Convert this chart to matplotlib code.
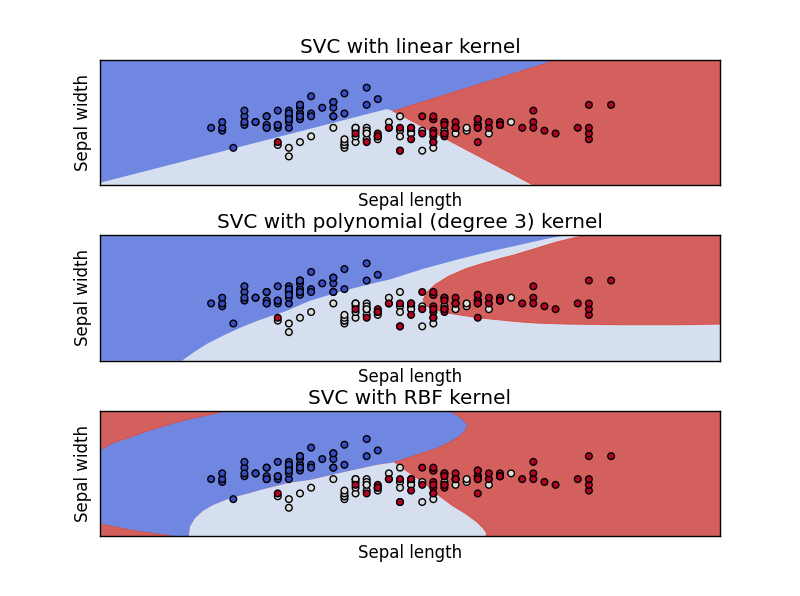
import numpy as np
import matplotlib
matplotlib.use("Agg")
import matplotlib.pyplot as plt

plt.rcParams['text.hinting'] = 'auto'
plt.rcParams['text.hinting_factor'] = 8

sepal_length = [5.1,4.9,4.7,4.6,5.0,5.4,4.6,5.0,4.4,4.9,5.4,4.8,4.8,4.3,5.8,5.7,5.4,5.1,5.7,5.1,5.4,5.1,4.6,5.1,4.8,5.0,5.0,5.2,5.2,4.7,4.8,5.4,5.2,5.5,4.9,5.0,5.5,4.9,4.4,5.1,5.0,4.5,4.4,5.0,5.1,4.8,5.1,4.6,5.3,5.0,
                7.0,6.4,6.9,5.5,6.5,5.7,6.3,4.9,6.6,5.2,5.0,5.9,6.0,6.1,5.6,6.7,5.6,5.8,6.2,5.6,5.9,6.1,6.3,6.1,6.4,6.6,6.8,6.7,6.0,5.7,5.5,5.5,5.8,6.0,5.4,6.0,6.7,6.3,5.6,5.5,5.5,6.1,5.8,5.0,5.6,5.7,5.7,6.2,5.1,5.7,
                6.3,5.8,7.1,6.3,6.5,7.6,4.9,7.3,6.7,7.2,6.5,6.4,6.8,5.7,5.8,6.4,6.5,7.7,7.7,6.0,6.9,5.6,7.7,6.3,6.7,7.2,6.2,6.1,6.4,7.2,7.4,7.9,6.4,6.3,6.1,7.7,6.3,6.4,6.0,6.9,6.7,6.9,5.8,6.8,6.7,6.7,6.3,6.5,6.2,5.9]
sepal_width = [3.5,3.0,3.2,3.1,3.6,3.9,3.4,3.4,2.9,3.1,3.7,3.4,3.0,3.0,4.0,4.4,3.9,3.5,3.8,3.8,3.4,3.7,3.6,3.3,3.4,3.0,3.4,3.5,3.4,3.2,3.1,3.4,4.1,4.2,3.1,3.2,3.5,3.6,3.0,3.4,3.5,2.3,3.2,3.5,3.8,3.0,3.8,3.2,3.7,3.3,
               3.2,3.2,3.1,2.3,2.8,2.8,3.3,2.4,2.9,2.7,2.0,3.0,2.2,2.9,2.9,3.1,3.0,2.7,2.2,2.5,3.2,2.8,2.5,2.8,2.9,3.0,2.8,3.0,2.9,2.6,2.4,2.4,2.7,2.7,3.0,3.4,3.1,2.3,3.0,2.5,2.6,3.0,2.6,2.3,2.7,3.0,2.9,2.9,2.5,2.8,
               3.3,2.7,3.0,2.9,3.0,3.0,2.5,2.9,2.5,3.6,3.2,2.7,3.0,2.5,2.8,3.2,3.0,3.8,2.6,2.2,3.2,2.8,2.8,2.7,3.3,3.2,2.8,3.0,2.8,3.0,2.8,3.8,2.8,2.8,2.6,3.0,3.4,3.1,3.0,3.1,3.1,3.1,2.7,3.2,3.3,3.0,2.5,3.0,3.4,3.0]
species = [0]*50 + [1]*50 + [2]*50

titles = ['SVC with linear kernel', 'SVC with polynomial (degree 3) kernel', 'SVC with RBF kernel']
xlabel_text = 'Sepal length'
ylabel_text = 'Sepal width'

x_range = (3.3, 8.88)
y_range = (1.0, 5.38)

BLUE = '#6f87e0'
LIGHT = '#d6dff0'
RED = '#d4605e'
EDGE = '#d94f47'

# Decision-boundary outlines, against a frame of 3.3-8.9 by 1.0-5.4
linear_blue_light = [(3.3,1.08),(5.889,3.665),(5.949,3.594)]
linear_blue_red = [(5.949,3.594),(7.44,5.4)]
linear_light_red = [(5.949,3.594),(7.214,1.0)]

poly_blue_light = [(4.04,1.0),(4.158,1.326),(4.278,1.62),(4.429,1.911),(4.58,2.181),(4.73,2.413),(4.881,2.613),
                   (4.971,2.728),(5.197,3.104),(5.497,3.454),(5.799,3.745),(5.919,3.85),(6.22,4.225),(6.522,4.541),
                   (6.822,4.832),(7.123,5.091),(7.364,5.302),(7.515,5.4)]
poly_red_edge = [(7.68,5.4),(7.425,5.162),(7.048,4.716),(6.897,4.566),(6.748,4.401),(6.597,4.215),(6.446,3.956),
                 (6.326,3.665),(6.251,3.395),(6.22,3.139),(6.235,2.963),(6.296,2.813),(6.446,2.672),(6.597,2.578),
                 (6.748,2.497),(7.048,2.378),(7.244,2.322),(7.515,2.287),(8.026,2.262),(8.509,2.262),(8.9,2.287)]

rbf_top_left = [(3.3,4.033),(3.406,4.268),(3.556,4.464),(3.706,4.674),(3.857,4.85),(4.007,5.025),(4.158,5.165),
                (4.309,5.284),(4.384,5.354),(4.429,5.4)]
rbf_blob = [(6.467,5.4),(6.552,5.179),(6.597,5.039),(6.621,4.92),(6.606,4.744),(6.552,4.513),(6.461,4.303),
            (6.341,4.078),(6.19,3.892),(5.964,3.601)]
rbf_arc = [(5.964,3.601),(5.799,3.507),(5.497,3.251),(5.197,2.981),(5.016,2.886),(4.775,2.655),(4.625,2.49),
           (4.474,2.339),(4.323,2.104),(4.233,1.904),(4.158,1.638),(4.113,1.344),(4.104,1.053),(4.104,1.0)]
rbf_bottom_left = [(3.962,1.0),(3.812,1.088),(3.601,1.203),(3.3,1.438)]
rbf_lower_right = [(5.964,3.601),(6.10,3.216),(6.251,2.806),(6.355,2.455),(6.476,2.104),(6.597,1.813),(6.702,1.519),
                   (6.762,1.287),(6.793,1.112),(6.786,1.0)]

LOW_X, HIGH_X, LOW_Y, HIGH_Y = 3.3, 8.9, 1.0, 5.4
linear_blue = [(LOW_X,HIGH_Y)] + linear_blue_red[-1:] + linear_blue_red[:1] + linear_blue_light[::-1][1:]
linear_blue = [(LOW_X,HIGH_Y),(7.44,HIGH_Y),(5.949,3.594),(5.889,3.665),(LOW_X,1.08)]
linear_red = [(7.44,HIGH_Y),(HIGH_X,HIGH_Y),(HIGH_X,LOW_Y),(7.214,LOW_Y),(5.949,3.594)]
poly_blue = [(LOW_X,HIGH_Y)] + poly_blue_light[::-1] + [(LOW_X,LOW_Y)]
poly_red = poly_red_edge + [(HIGH_X,HIGH_Y)]
rbf_blue = rbf_top_left + rbf_blob + rbf_arc[1:] + rbf_bottom_left
rbf_light = rbf_arc + rbf_lower_right[::-1]


def to_grid(outline):
    """The plotted grid stops one step short of the frame the outlines were read against."""
    return [(x_range[0] + (x - LOW_X) * (x_range[1] - x_range[0]) / (HIGH_X - LOW_X),
             y_range[0] + (y - LOW_Y) * (y_range[1] - y_range[0]) / (HIGH_Y - LOW_Y))
            for x, y in outline]


regions = [
    (LIGHT, [(BLUE, linear_blue), (RED, linear_red)], [linear_blue_red, linear_light_red]),
    (LIGHT, [(BLUE, poly_blue), (RED, poly_red)], [poly_red_edge]),
    (RED, [(BLUE, rbf_blue), (LIGHT, rbf_light)], [rbf_top_left, rbf_blob, rbf_bottom_left, rbf_lower_right]),
]

fig, axes = plt.subplots(3, 1, figsize=(8, 5.96), dpi=100, facecolor='white')
fig.subplots_adjust(left=0.125, right=0.9, top=0.9, bottom=0.1, hspace=0.4)

for ax, title, (back, shapes, edges) in zip(axes, titles, regions):
    ax.set_facecolor(back)
    for colour, outline in shapes:
        xs, ys = zip(*to_grid(outline))
        ax.fill(xs, ys, color=colour, linewidth=0, zorder=1)
    for edge in edges:
        xs, ys = zip(*to_grid(edge))
        ax.plot(xs, ys, color=EDGE, linewidth=0.7, zorder=2)
    ax.scatter(sepal_length, sepal_width, c=species, cmap='coolwarm', s=23,
               edgecolors='k', linewidths=1, zorder=3)
    ax.set_xlim(*x_range)
    ax.set_ylim(*y_range)
    ax.set_xticks(())
    ax.set_yticks(())
    ax.set_xlabel(xlabel_text, fontsize=12, labelpad=5.2)
    ax.set_ylabel(ylabel_text, fontsize=12, labelpad=5.5)
    ax.set_title(title, fontsize=14.4, pad=5)
    for s in ax.spines.values():
        s.set_linewidth(1)

fig.savefig('out.png', dpi=100, facecolor='white')
